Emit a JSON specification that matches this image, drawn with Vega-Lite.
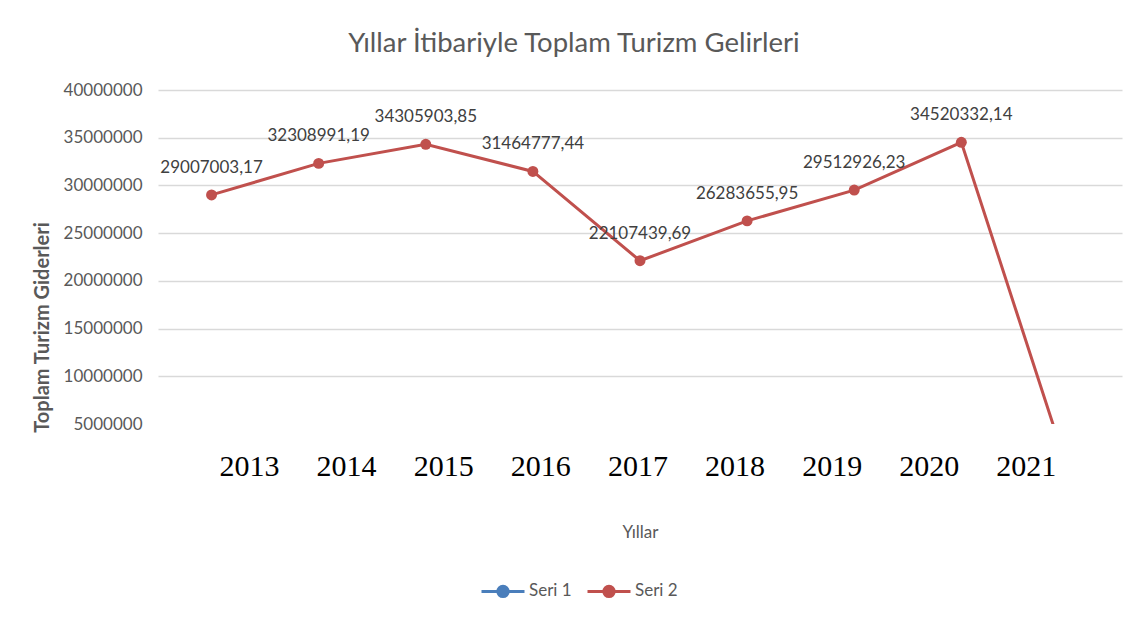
{
  "$schema": "https://vega.github.io/schema/vega-lite/v6.json",
  "width": 964,
  "height": 334,
  "autosize": {"type": "none"},
  "padding": {"left": 158, "top": 90, "right": 16, "bottom": 198},
  "background": "white",
  "title": {
    "text": "Yıllar İtibariyle Toplam Turizm Gelirleri",
    "font": "Lato",
    "fontSize": 27.5,
    "fontWeight": "normal",
    "color": "#595959",
    "anchor": "middle",
    "dx": -66,
    "offset": 24
  },
  "data": {
    "values": [
      {"Yil": 2013, "Deger": 29007003.17, "Etiket": "29007003,17", "Seri": "Seri 2"},
      {"Yil": 2014, "Deger": 32308991.19, "Etiket": "32308991,19", "Seri": "Seri 2"},
      {"Yil": 2015, "Deger": 34305903.85, "Etiket": "34305903,85", "Seri": "Seri 2"},
      {"Yil": 2016, "Deger": 31464777.44, "Etiket": "31464777,44", "Seri": "Seri 2"},
      {"Yil": 2017, "Deger": 22107439.69, "Etiket": "22107439,69", "Seri": "Seri 2"},
      {"Yil": 2018, "Deger": 26283655.95, "Etiket": "26283655,95", "Seri": "Seri 2"},
      {"Yil": 2019, "Deger": 29512926.23, "Etiket": "29512926,23", "Seri": "Seri 2"},
      {"Yil": 2020, "Deger": 34520332.14, "Etiket": "34520332,14", "Seri": "Seri 2"},
      {"Yil": 2021, "Deger": 0, "Etiket": "", "Seri": "Seri 2"}
    ]
  },
  "layer": [
    {
      "mark": {"type": "line", "color": "#C0504D", "strokeWidth": 3, "clip": true},
      "encoding": {
        "x": {"field": "Yil", "type": "ordinal", "scale": {"type": "point", "padding": 0.5}, "axis": null},
        "y": {
          "field": "Deger",
          "type": "quantitative",
          "scale": {"domain": [5000000, 40000000], "nice": false, "zero": false},
          "axis": {
            "values": [5000000, 10000000, 15000000, 20000000, 25000000, 30000000, 35000000, 40000000],
            "format": "d",
            "domain": false,
            "ticks": false,
            "labelPadding": 16,
            "labelFont": "Lato",
            "labelFontSize": 17,
            "labelColor": "#595959",
            "gridColor": "#D9D9D9",
            "gridWidth": 1.5,
            "gridOpacity": {"condition": {"test": "datum.value === 5000000", "value": 0}, "value": 1},
            "title": "Toplam Turizm Giderleri",
            "titleFont": "Lato",
            "titleFontSize": 20,
            "titleFontWeight": "bold",
            "titleColor": "#595959",
            "titleX": -116,
            "titleY": 237,
            "titleAlign": "center",
            "titleBaseline": "middle"
          }
        }
      }
    },
    {
      "mark": {"type": "point", "filled": true, "opacity": 1, "size": 120, "clip": true},
      "encoding": {
        "x": {"field": "Yil", "type": "ordinal", "scale": {"type": "point", "padding": 0.5}, "axis": null},
        "y": {"field": "Deger", "type": "quantitative"},
        "color": {
          "field": "Seri",
          "type": "nominal",
          "scale": {"domain": ["Seri 1", "Seri 2"], "range": ["#4A7EBB", "#C0504D"]},
          "legend": {
            "title": null,
            "orient": "none",
            "direction": "horizontal",
            "legendX": 322,
            "legendY": 478,
            "symbolType": "M-1,0H1M0.24,0A0.24,0.24 0 1,1 -0.24,0A0.24,0.24 0 1,1 0.24,0Z",
            "symbolSize": 1849,
            "symbolStrokeWidth": 3,
            "symbolOpacity": 1,
            "labelOffset": 3,
            "columnPadding": 9,
            "labelFont": "Lato",
            "labelFontSize": 17,
            "labelColor": "#595959",
            "encode": {
              "symbols": {
                "update": {
                  "stroke": {"scale": "color", "field": "value"},
                  "fill": {"scale": "color", "field": "value"},
                  "strokeWidth": {"value": 3}
                }
              }
            }
          }
        }
      }
    },
    {
      "mark": {"type": "text", "dy": -27, "baseline": "middle", "align": "center", "font": "Lato", "fontSize": 17, "color": "#404040"},
      "encoding": {
        "x": {"field": "Yil", "type": "ordinal", "scale": {"type": "point", "padding": 0.5}, "axis": null},
        "y": {"field": "Deger", "type": "quantitative"},
        "text": {"field": "Etiket", "type": "nominal"}
      }
    },
    {
      "mark": {"type": "tick", "opacity": 0},
      "encoding": {
        "x": {
          "field": "Yil",
          "type": "quantitative",
          "scale": {"domain": [2012.063, 2021.99], "nice": false, "zero": false},
          "axis": {
            "values": [2013, 2014, 2015, 2016, 2017, 2018, 2019, 2020, 2021],
            "format": "d",
            "grid": false,
            "domain": false,
            "ticks": false,
            "labelFont": "Liberation Serif",
            "labelFontSize": 30,
            "labelColor": "#000000",
            "labelBaseline": "alphabetic",
            "labelPadding": 51,
            "labelFlush": false,
            "labelOverlap": false,
            "title": "Yıllar",
            "titleFont": "Lato",
            "titleFontSize": 17,
            "titleFontWeight": "normal",
            "titleColor": "#595959",
            "titleY": 108,
            "titleBaseline": "middle"
          }
        }
      }
    }
  ],
  "resolve": {"scale": {"x": "independent"}},
  "config": {
    "view": {"stroke": null}
  }
}
